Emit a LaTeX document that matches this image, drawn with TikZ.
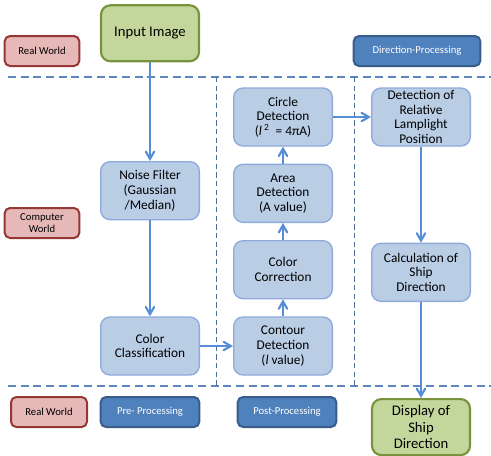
\documentclass[tikz,border=0pt]{standalone}
\usepackage{fontspec}
\setmainfont{Carlito}
\usepackage{tikz}
\usetikzlibrary{shapes,positioning,arrows}

\definecolor{procfill}{HTML}{B9CDE5}
\definecolor{procdraw}{HTML}{8EAADB}
\definecolor{termfill}{HTML}{C3D69B}
\definecolor{termdraw}{HTML}{77933C}
\definecolor{worldfill}{HTML}{E6B9B8}
\definecolor{worlddraw}{HTML}{953735}
\definecolor{stagefill}{HTML}{4F81BD}
\definecolor{stagedraw}{HTML}{385D8A}
\definecolor{flowline}{HTML}{558ED5}
\definecolor{zoneline}{HTML}{5F87BF}

\tikzset{
  procbox/.style={align=center, fill=procfill, draw=procdraw, line width=1pt,
    rounded corners=7pt, minimum width=74pt, minimum height=43.5pt,
    inner sep=1pt, font=\fontsize{10}{11}\selectfont},
  termbox/.style={procbox, fill=termfill, draw=termdraw, line width=1.6pt,
    minimum width=73.5pt, minimum height=42pt, font=\fontsize{11}{12.5}\selectfont},
  worldlabel/.style={align=center, fill=worldfill, draw=worlddraw, line width=1.5pt,
    rounded corners=4pt, minimum width=56pt, minimum height=22.5pt,
    inner sep=1pt, font=\fontsize{8}{9.5}\selectfont},
  stagelabel/.style={worldlabel, fill=stagefill, draw=stagedraw, text=white,
    minimum width=74pt},
  flow/.style={->, >=angle 60, draw=flowline, line width=1.6pt},
  zone/.style={draw=zoneline, line width=1.2pt, dash pattern=on 6pt off 3.5pt},
  zonesplit/.style={draw=zoneline!80!black, line width=0.7pt, dash pattern=on 4pt off 2.5pt}
}

\begin{document}
\begin{tikzpicture}[x=0.75pt, y=-0.75pt]

  \useasboundingbox (0,0) rectangle (491,455);

  % zones
  \draw[zone] (8,77) -- (491,77);
  \draw[zone] (8,386) -- (491,386);
  \draw[zonesplit] (216,77) -- (216,386);
  \draw[zonesplit] (354,77) -- (354,386);

  % left column
  \node[procbox] (colclass) at (150,346) {Color\\Classification};
  \node[procbox, above = 72pt of colclass] (noise) {Noise Filter\\(Gaussian\\/Median)};
  \node[termbox, above = 74pt of noise] (input) {Input Image};

  % middle column
  \node[procbox, right = 24.75pt of colclass] (contour) {Contour\\Detection\\(\textit{l} value)};
  \node[procbox, above = 12.75pt of contour] (colcorr) {Color\\Correction};
  \node[procbox, above = 12.75pt of colcorr] (area) {Area\\Detection\\(A value)};
  \node[procbox, above = 12.75pt of area] (circle) {Circle\\Detection\\(\textit{l}\,\textsuperscript{2}~~= 4πA)};

  % right column
  \node[procbox, right = 28.5pt of circle] (lamp) {Detection of\\Relative\\Lamplight\\Position};
  \node[procbox, below = 72pt of lamp] (shipcalc) {Calculation of\\Ship\\Direction};
  \node[termbox, below = 72pt of shipcalc] (display) {Display of\\Ship\\Direction};

  % labels
  \node[worldlabel] (realtop) at (42,51) {Real World};
  \node[worldlabel] (computer) at (42,223) {Computer\\World};
  \node[worldlabel, minimum width=57pt] (realbottom) at (49,412) {Real World};
  \node[stagelabel, minimum width=95pt] (dirproc) at (417,51) {Direction-Processing};
  \node[stagelabel] (preproc) at (150,412) {Pre- Processing};
  \node[stagelabel] (postproc) at (287,412) {Post-Processing};

  \draw[flow] (input) -- (noise);
  \draw[flow] (noise) -- (colclass);
  \draw[flow] (colclass) -- (contour);
  \draw[flow] (contour) -- (colcorr);
  \draw[flow] (colcorr) -- (area);
  \draw[flow] (area) -- (circle);
  \draw[flow] (circle) -- (lamp);
  \draw[flow] (lamp) -- (shipcalc);
  \draw[flow] (shipcalc) -- (display);

\end{tikzpicture}
\end{document}
